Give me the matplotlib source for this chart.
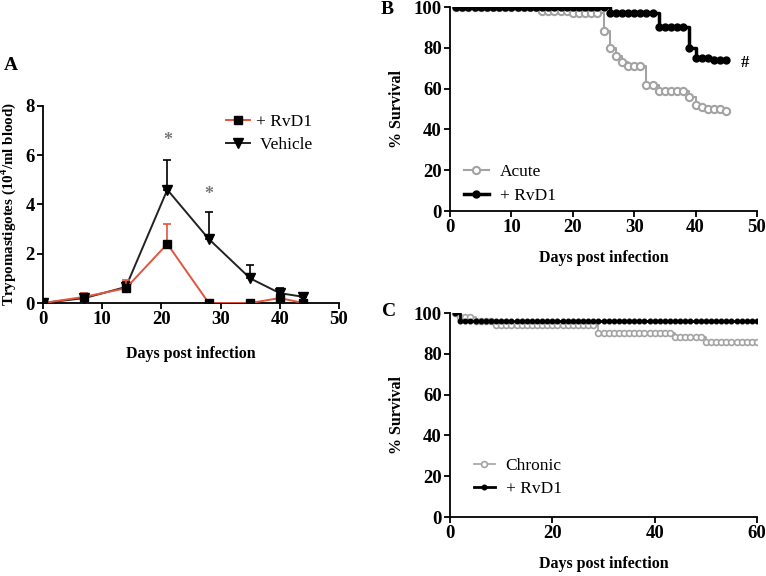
import matplotlib
matplotlib.use("Agg")
import matplotlib.pyplot as plt
import numpy as np
from matplotlib.lines import Line2D

plt.rcParams['font.family'] = ['Liberation Serif', 'DejaVu Serif']
plt.rcParams['font.weight'] = 'bold'
plt.rcParams['mathtext.fontset'] = 'custom'
plt.rcParams['mathtext.rm'] = 'Liberation Serif:bold'
plt.rcParams['mathtext.bf'] = 'Liberation Serif:bold'

# ---------------- Panel A data ----------------
days_a = [0, 7, 14, 21, 28, 35, 40, 44]
rvd1_a = [0, 0.25, 0.6, 2.4, 0, 0, 0.2, 0]
rvd1_err = [0, 0.15, 0.35, 0.8, 0, 0, 0.1, 0]
veh_a = [0, 0.2, 0.65, 4.6, 2.6, 1.0, 0.4, 0.25]
veh_err = [0, 0.1, 0.2, 1.2, 1.1, 0.55, 0.2, 0.1]
star_x = [21, 28]
star_y = [6.6, 4.4]

# ---------------- Panel B data ----------------
days_b = list(range(1, 46))
acute = [100]*14 + [98]*5 + [97]*5 + [88, 80, 76, 73, 71, 71, 71, 62, 62,
                                     59, 59, 59, 59, 59, 56, 52, 51, 50, 50, 50, 49]
rvd1_b = [100]*25 + [97]*8 + [90]*5 + [80] + [75]*3 + [74]*3

# ---------------- Panel C data ----------------
days_c = list(range(1, 61))
chronic = [100] + [98]*3 + [96]*4 + [94]*20 + [90]*15 + [88]*6 + [86]*11
rvd1_c = [100] + [96]*59

red = '#e2553c'
gray = '#a3a3a3'
TICK = 13.5
LAB = 11.5

fig = plt.figure(figsize=(7.66, 5.76), dpi=100)

def style(ax):
    for s in ['top', 'right']:
        ax.spines[s].set_visible(False)
    for s in ['left', 'bottom']:
        ax.spines[s].set_linewidth(1.3)
    ax.tick_params(direction='out', length=4, width=1.3, labelsize=TICK, pad=2)
    for lab in ax.get_xticklabels() + ax.get_yticklabels():
        lab.set_fontweight('bold')

# Panel A
axA = fig.add_axes([43/766, 1-303/576, (339-43)/766, (303-106)/576])
axA.errorbar(days_a, rvd1_a, yerr=[np.zeros(len(rvd1_err)), rvd1_err], color=red,
             lw=1.4, marker='s', ms=5.5, mfc='black', mec='black', ecolor=red,
             capsize=3, elinewidth=1.2, capthick=1.2, zorder=3)
axA.errorbar(days_a, veh_a, yerr=[np.zeros(len(veh_err)), veh_err], color='#222222',
             lw=1.4, marker='v', ms=7, mfc='black', mec='black', ecolor='black',
             capsize=3, elinewidth=1.2, capthick=1.2, zorder=2)
for x, y in zip(star_x, star_y):
    axA.text(x, y, '*', ha='center', va='center', fontsize=13, color='#777777')
axA.set_xlim(0, 50)
axA.set_ylim(0, 8)
axA.set_xticks([0, 10, 20, 30, 40, 50])
axA.set_yticks([0, 2, 4, 6, 8])
axA.set_xlabel('Days post infection', fontsize=LAB, fontweight='bold', labelpad=13)
axA.set_ylabel(r'Trypomastigotes (10$^{4}$/ml blood)', fontsize=10.8, fontweight='bold',
               labelpad=5)
style(axA)
hA = [Line2D([], [], color=red, lw=1.4, marker='s', ms=5.5, mfc='black', mec='black'),
      Line2D([], [], color='#222222', lw=1.4, marker='v', ms=7, mfc='black', mec='black')]
legA = axA.legend(hA, ['+ RvD1', ' Vehicle'], loc='upper left',
                  bbox_to_anchor=(210/766, 1-98/576),
                  bbox_transform=fig.transFigure, frameon=False, fontsize=12.5,
                  handlelength=1.4, handletextpad=0.35, labelspacing=0.4)
for t in legA.get_texts():
    t.set_fontweight('normal')
fig.text(4/766, 1-66/576, 'A', fontsize=14, fontweight='bold', va='center')

# Panel B
axB = fig.add_axes([450/766, 1-211/576, (757-450)/766, (211-7)/576])
axB.plot(days_b, acute, drawstyle='steps-post', color=gray, lw=1.5, zorder=2)
axB.plot(days_b, acute, ls='none', marker='o', ms=5.2, mfc='white', mec=gray, mew=1.5,
         zorder=2)
axB.plot(days_b, rvd1_b, drawstyle='steps-post', color='black', lw=2.5, zorder=3)
axB.plot(days_b, rvd1_b, ls='none', marker='o', ms=5, color='black', zorder=3)
axB.text(48, 72.5, '#', ha='center', va='center', fontsize=12)
axB.set_xlim(0, 50)
axB.set_ylim(0, 100)
axB.set_xticks([0, 10, 20, 30, 40, 50])
axB.set_yticks([0, 20, 40, 60, 80, 100])
axB.set_xlabel('Days post infection', fontsize=LAB, fontweight='bold', labelpad=10)
axB.set_ylabel('% Survival', fontsize=LAB, fontweight='bold', labelpad=6)
style(axB)
hB = [Line2D([], [], color=gray, lw=1.5, marker='o', ms=5.2, mfc='white', mec=gray, mew=1.5),
      Line2D([], [], color='black', lw=2.5, marker='o', ms=5, mfc='black', mec='black')]
legB = axB.legend(hB, ['Acute', '+ RvD1'], loc='upper left',
                  bbox_to_anchor=(448/766, 1-148/576), bbox_transform=fig.transFigure,
                  frameon=False, fontsize=12.5, handlelength=1.45, handletextpad=0.65,
                  labelspacing=0.45)
for t in legB.get_texts():
    t.set_fontweight('normal')
fig.text(381/766, 1-9/576, 'B', fontsize=14, fontweight='bold', va='center')

# Panel C
axC = fig.add_axes([450/766, 1-517/576, (757-450)/766, (517-313)/576])
axC.plot(days_c, chronic, drawstyle='steps-post', color=gray, lw=1.2, zorder=2)
axC.plot(days_c, chronic, ls='none', marker='o', ms=4.2, mfc='white', mec=gray, mew=1.2,
         zorder=2)
axC.plot(days_c, rvd1_c, drawstyle='steps-post', color='black', lw=2.0, zorder=3)
axC.plot(days_c, rvd1_c, ls='none', marker='o', ms=3.3, color='black', zorder=3)
axC.set_xlim(0, 60)
axC.set_ylim(0, 100)
axC.set_xticks([0, 20, 40, 60])
axC.set_yticks([0, 20, 40, 60, 80, 100])
axC.set_xlabel('Days post infection', fontsize=LAB, fontweight='bold', labelpad=10)
axC.set_ylabel('% Survival', fontsize=LAB, fontweight='bold', labelpad=6)
style(axC)
hC = [Line2D([], [], color=gray, lw=1.2, marker='o', ms=4.2, mfc='white', mec=gray, mew=1.2),
      Line2D([], [], color='black', lw=2.0, marker='o', ms=3.3, mfc='black', mec='black')]
legC = axC.legend(hC, ['Chronic', '+ RvD1'], loc='upper left',
                  bbox_to_anchor=(458/766, 1-442/576), bbox_transform=fig.transFigure,
                  frameon=False, fontsize=12.5, handlelength=1.25, handletextpad=0.6,
                  labelspacing=0.4)
for t in legC.get_texts():
    t.set_fontweight('normal')
fig.text(382/766, 1-311/576, 'C', fontsize=14, fontweight='bold', va='center')

fig.savefig('out.png', dpi=100)
